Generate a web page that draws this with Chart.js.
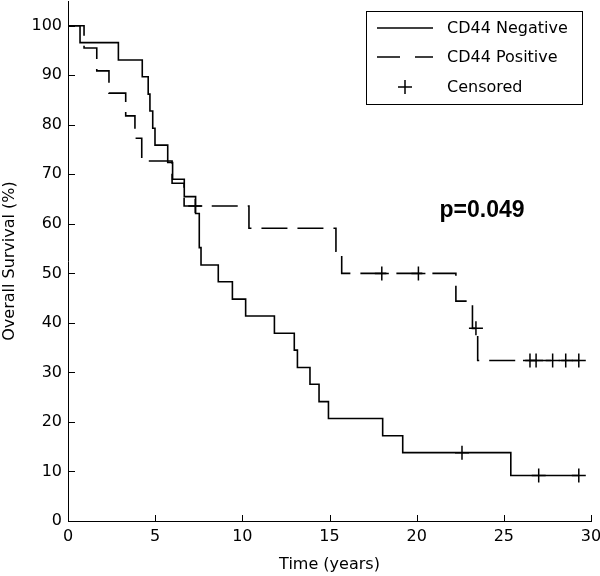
<!DOCTYPE html>
<html>
<head>
<meta charset="utf-8">
<script src="https://cdn.jsdelivr.net/npm/chart.js@4/dist/chart.umd.min.js"></script>
<style>
  html, body { margin: 0; padding: 0; background: #fff; }
  #wrap { width: 600px; height: 576px; }
</style>
</head>
<body>
<div id="wrap"><canvas id="km" width="600" height="576"></canvas></div>
<script>
// CD44 negative group (solid line) - event times (years) and survival (%) after each step
const negTimes    = [0, 0.69, 2.89, 4.26, 4.60, 4.70, 4.86, 4.99, 5.72, 6.00, 6.67, 7.32, 7.53, 7.63, 8.62, 9.43, 10.19, 11.84, 12.98, 13.16, 13.88, 14.40, 14.94, 18.05, 19.20, 25.40, 29.30];
const negSurvival = [100, 96.6, 93.1, 89.7, 86.2, 82.8, 79.3, 75.9, 72.4, 69.0, 65.5, 62.1, 55.2, 51.7, 48.3, 44.8, 41.4, 37.9, 34.5, 31.0, 27.6, 24.1, 20.7, 17.2, 13.8, 9.2, 9.2];
const negCensorTimes    = [22.6, 27.0, 29.3];
const negCensorSurvival = [13.8, 9.2, 9.2];

// CD44 positive group (dashed line)
const posTimes    = [0, 0.92, 1.65, 2.35, 3.31, 3.84, 4.23, 5.97, 6.66, 10.38, 15.37, 15.70, 22.25, 23.20, 23.50, 29.30];
const posSurvival = [100, 95.5, 90.9, 86.4, 81.8, 77.3, 72.7, 68.2, 63.6, 59.1, 54.5, 50.0, 44.4, 38.9, 32.4, 32.4];
const posCensorTimes    = [7.3, 18.0, 20.1, 23.4, 26.5, 26.85, 27.8, 28.55, 29.3];
const posCensorSurvival = [63.6, 50.0, 50.0, 38.9, 32.4, 32.4, 32.4, 32.4, 32.4];

// axes
const xTicks = [0, 5, 10, 15, 20, 25, 30];
const yTicks = [0, 10, 20, 30, 40, 50, 60, 70, 80, 90, 100];
const legendLabels = ['CD44 Negative', 'CD44 Positive', 'Censored'];
const pValueText = 'p=0.049';

const FONT = 'DejaVu Sans';
const toPoints = (xs, ys) => xs.map((t, i) => ({ x: t, y: ys[i] }));

// MATLAB style tick marks pointing into the plot
const inwardTicks = {
    id: 'inwardTicks',
    afterDraw(chart) {
        const { ctx, chartArea, scales: { x, y } } = chart;
        ctx.save();
        ctx.strokeStyle = '#000';
        ctx.lineWidth = 1;
        ctx.beginPath();
        x.ticks.forEach(t => {
            const px = Math.round(x.getPixelForValue(t.value)) + 0.5;
            ctx.moveTo(px, chartArea.bottom);
            ctx.lineTo(px, chartArea.bottom - 6);
        });
        y.ticks.forEach(t => {
            const py = Math.round(y.getPixelForValue(t.value)) + 0.5;
            ctx.moveTo(chartArea.left, py);
            ctx.lineTo(chartArea.left + 7, py);
        });
        ctx.stroke();
        ctx.restore();
    }
};

// boxed legend in the upper right corner + p value
const boxLegend = {
    id: 'boxLegend',
    afterDraw(chart) {
        const { ctx, scales: { x, y } } = chart;
        ctx.save();
        // box
        ctx.fillStyle = '#fff';
        ctx.fillRect(366, 11, 216, 93);
        ctx.strokeStyle = '#000';
        ctx.lineWidth = 1;
        ctx.strokeRect(366.5, 11.5, 216, 93);

        const rows = [28, 57, 87];
        ctx.lineWidth = 1.5;
        // solid sample
        ctx.beginPath(); ctx.moveTo(377, rows[0]); ctx.lineTo(433, rows[0]); ctx.stroke();
        // dashed sample
        ctx.setLineDash([23, 15]);
        ctx.beginPath(); ctx.moveTo(377, rows[1]); ctx.lineTo(433, rows[1]); ctx.stroke();
        ctx.setLineDash([]);
        // censor marker
        ctx.beginPath();
        ctx.moveTo(398, rows[2]); ctx.lineTo(412, rows[2]);
        ctx.moveTo(405, rows[2] - 7); ctx.lineTo(405, rows[2] + 7);
        ctx.stroke();

        ctx.fillStyle = '#000';
        ctx.font = '16px "' + FONT + '"';
        ctx.textBaseline = 'middle';
        ctx.textAlign = 'left';
        legendLabels.forEach((lab, i) => ctx.fillText(lab, 447, rows[i] + 1));

        // p value annotation
        ctx.font = 'bold 23px "Liberation Sans"';
        ctx.textAlign = 'center';
        ctx.fillText(pValueText, x.getPixelForValue(23.75), y.getPixelForValue(62.6));
        ctx.restore();
    }
};

const ctx = document.getElementById('km').getContext('2d');
new Chart(ctx, {
    type: 'scatter',
    data: {
        datasets: [
            {
                label: 'CD44 Negative',
                data: toPoints(negTimes, negSurvival),
                showLine: true, stepped: 'before',
                borderColor: '#000', borderWidth: 1.6,
                pointRadius: 0
            },
            {
                label: 'CD44 Positive',
                data: toPoints(posTimes, posSurvival),
                showLine: true, stepped: 'before',
                borderColor: '#000', borderWidth: 1.6, borderDash: [26, 10],
                pointRadius: 0
            },
            {
                label: 'Censored (neg)',
                data: toPoints(negCensorTimes, negCensorSurvival),
                showLine: false, pointStyle: 'cross', pointRadius: 7,
                borderColor: '#000', pointBorderWidth: 1.5
            },
            {
                label: 'Censored (pos)',
                data: toPoints(posCensorTimes, posCensorSurvival),
                showLine: false, pointStyle: 'cross', pointRadius: 7,
                borderColor: '#000', pointBorderWidth: 1.5
            }
        ]
    },
    options: {
        responsive: false,
        animation: false,
        layout: { autoPadding: false, padding: { top: 1, right: 9, left: 0, bottom: 0 } },
        plugins: {
            legend: { display: false },
            tooltip: { enabled: false }
        },
        scales: {
            x: {
                type: 'linear', min: 0, max: 30,
                afterBuildTicks: s => { s.ticks = xTicks.map(v => ({ value: v })); },
                afterFit: s => { s.height = 55; s.paddingLeft = 0; s.paddingRight = 0; },
                grid: { drawOnChartArea: false, drawTicks: false },
                border: { display: true, color: '#000', width: 1 },
                ticks: { color: '#000', font: { family: FONT, size: 16 }, padding: 6, maxRotation: 0 },
                title: { display: true, text: 'Time (years)', color: '#000', font: { family: FONT, size: 16 }, padding: { top: 0, bottom: 2 } }
            },
            y: {
                type: 'linear', min: 0, max: 105,
                afterBuildTicks: s => { s.ticks = yTicks.map(v => ({ value: v })); },
                afterFit: s => { s.width = 68; s.paddingTop = 0; s.paddingBottom = 0; },
                grid: { drawOnChartArea: false, drawTicks: false },
                border: { display: true, color: '#000', width: 1 },
                ticks: { color: '#000', font: { family: FONT, size: 16 }, padding: 6 },
                title: { display: true, text: 'Overall Survival (%)', color: '#000', font: { family: FONT, size: 16 }, padding: 0 }
            }
        }
    },
    plugins: [inwardTicks, boxLegend]
});
</script>
</body>
</html>
